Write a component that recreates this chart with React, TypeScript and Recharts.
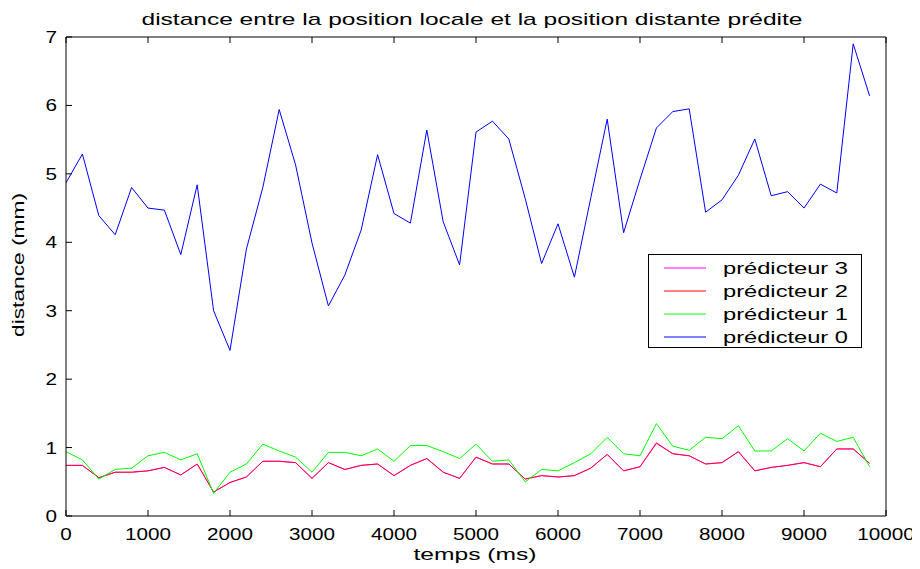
import React from "react";
import { LineChart, Line, XAxis, YAxis, Legend } from "recharts";

const times = [0, 200, 400, 600, 800, 1000, 1200, 1400, 1600, 1800, 2000, 2200, 2400, 2600, 2800, 3000, 3200, 3400, 3600, 3800, 4000, 4200, 4400, 4600, 4800, 5000, 5200, 5400, 5600, 5800, 6000, 6200, 6400, 6600, 6800, 7000, 7200, 7400, 7600, 7800, 8000, 8200, 8400, 8600, 8800, 9000, 9200, 9400, 9600, 9800];

const pred0 = [4.87, 5.29, 4.39, 4.11, 4.80, 4.50, 4.47, 3.82, 4.84, 3.00, 2.42, 3.90, 4.80, 5.94, 5.13, 3.99, 3.07, 3.52, 4.18, 5.28, 4.42, 4.28, 5.64, 4.30, 3.67, 5.61, 5.77, 5.51, 4.64, 3.69, 4.27, 3.49, 4.65, 5.80, 4.14, 4.92, 5.67, 5.91, 5.95, 4.44, 4.62, 4.98, 5.51, 4.68, 4.74, 4.50, 4.85, 4.72, 6.90, 6.14];

const pred1 = [0.94, 0.82, 0.54, 0.68, 0.70, 0.88, 0.93, 0.82, 0.91, 0.33, 0.64, 0.76, 1.05, 0.95, 0.86, 0.64, 0.93, 0.93, 0.88, 0.98, 0.80, 1.03, 1.03, 0.94, 0.84, 1.05, 0.80, 0.82, 0.50, 0.68, 0.66, 0.78, 0.91, 1.15, 0.91, 0.88, 1.35, 1.02, 0.96, 1.15, 1.13, 1.32, 0.95, 0.95, 1.13, 0.95, 1.21, 1.09, 1.15, 0.72];

const pred2 = [0.74, 0.74, 0.56, 0.64, 0.64, 0.66, 0.71, 0.60, 0.76, 0.35, 0.49, 0.57, 0.80, 0.80, 0.78, 0.55, 0.78, 0.68, 0.74, 0.76, 0.59, 0.74, 0.84, 0.64, 0.55, 0.86, 0.76, 0.76, 0.54, 0.59, 0.57, 0.59, 0.70, 0.90, 0.66, 0.72, 1.06, 0.91, 0.88, 0.76, 0.78, 0.94, 0.66, 0.71, 0.74, 0.78, 0.72, 0.98, 0.98, 0.77];

const pred3 = [0.74, 0.74, 0.56, 0.64, 0.64, 0.66, 0.71, 0.60, 0.76, 0.35, 0.49, 0.57, 0.80, 0.80, 0.78, 0.55, 0.78, 0.68, 0.74, 0.76, 0.59, 0.74, 0.84, 0.64, 0.55, 0.86, 0.76, 0.76, 0.54, 0.59, 0.57, 0.59, 0.70, 0.90, 0.66, 0.72, 1.07, 0.91, 0.88, 0.76, 0.78, 0.94, 0.66, 0.71, 0.74, 0.78, 0.72, 0.98, 0.98, 0.77];

const xTicks = [0, 1000, 2000, 3000, 4000, 5000, 6000, 7000, 8000, 9000, 10000];
const yTicks = [0, 1, 2, 3, 4, 5, 6, 7];

const seriesNames = ["prédicteur 0", "prédicteur 1", "prédicteur 2", "prédicteur 3"];
const titleText = "distance entre la position locale et la position distante prédite";
const xLabelText = "temps (ms)";
const yLabelText = "distance (mm)";

const data = times.map((t, i) => ({
  t,
  p0: pred0[i],
  p1: pred1[i],
  p2: pred2[i],
  p3: pred3[i],
}));

const FONT = "'Liberation Sans', Arial, sans-serif";
const DIGIT_W = 11.5;

const BottomTick = (props: any) => {
  const { x, y, payload } = props;
  const s = String(payload.value);
  return (
    <g>
      <line x1={x} y1={y} x2={x} y2={y - 6} stroke="#000" />
      <text x={x} y={y + 24} textAnchor="middle" fontSize={16} fontFamily={FONT} fill="#000" textLength={s.length * DIGIT_W} lengthAdjust="spacingAndGlyphs">{s}</text>
    </g>
  );
};

const TopTick = (props: any) => {
  const { x, y } = props;
  return <line x1={x} y1={y} x2={x} y2={y + 6} stroke="#000" />;
};

const LeftTick = (props: any) => {
  const { x, y, payload } = props;
  const s = String(payload.value);
  return (
    <g>
      <line x1={x} y1={y} x2={x + 6} y2={y} stroke="#000" />
      <text x={x - 9} y={y + 6} textAnchor="end" fontSize={16} fontFamily={FONT} fill="#000" textLength={s.length * DIGIT_W} lengthAdjust="spacingAndGlyphs">{s}</text>
    </g>
  );
};

const RightTick = (props: any) => {
  const { x, y } = props;
  return <line x1={x} y1={y} x2={x - 6} y2={y} stroke="#000" />;
};

const TitleLabel = () => (
  <text x={464} y={17} textAnchor="middle" fontSize={17} fontFamily={FONT} fill="#000" textLength={661} lengthAdjust="spacingAndGlyphs">{titleText}</text>
);

const XLabel = () => (
  <text x={467} y={552} textAnchor="middle" fontSize={17} fontFamily={FONT} fill="#000" textLength={123} lengthAdjust="spacingAndGlyphs">{xLabelText}</text>
);

const YLabel = () => (
  <text x={0} y={0} transform="translate(16, 257) rotate(-90)" textAnchor="middle" fontSize={17} fontFamily={FONT} fill="#000" textLength={144} lengthAdjust="spacingAndGlyphs">{yLabelText}</text>
);

const LegendBox = (props: any) => {
  const payload = [...(props.payload || [])].sort((a: any, b: any) => String(b.value).localeCompare(String(a.value)));
  return (
    <div style={{ width: 212, height: 92, border: "1px solid #000", background: "#fff" }}>
      <svg width={212} height={92}>
        {payload.map((item: any, i: number) => {
          const cy = 13 + i * 23;
          return (
            <g key={i}>
              <line x1={15} y1={cy} x2={57} y2={cy} stroke={item.color} strokeWidth={1} />
              <text x={74} y={cy + 6} fontSize={17} fontFamily={FONT} fill="#000" textLength={125} lengthAdjust="spacingAndGlyphs">{item.value}</text>
            </g>
          );
        })}
      </svg>
    </div>
  );
};

export default function App() {
  return (
    <LineChart width={912} height={561} data={data} margin={{ top: 28, right: 33, left: 0, bottom: 0 }}>
      <XAxis
        dataKey="t"
        type="number"
        domain={[0, 10000]}
        ticks={xTicks}
        height={53}
        tickSize={0}
        tickMargin={0}
        tickLine={false}
        tick={<BottomTick />}
        axisLine={{ stroke: "#000" }}
        interval={0}
        label={<XLabel />}
      />
      <XAxis
        xAxisId="top"
        orientation="top"
        dataKey="t"
        type="number"
        domain={[0, 10000]}
        ticks={xTicks}
        height={1}
        tickSize={0}
        tickMargin={0}
        tickLine={false}
        tick={<TopTick />}
        axisLine={{ stroke: "#000" }}
        interval={0}
        label={<TitleLabel />}
      />
      <YAxis
        type="number"
        domain={[0, 7]}
        ticks={yTicks}
        width={58}
        tickSize={0}
        tickMargin={0}
        tickLine={false}
        tick={<LeftTick />}
        axisLine={{ stroke: "#000" }}
        interval={0}
        label={<YLabel />}
      />
      <YAxis
        yAxisId="right"
        orientation="right"
        type="number"
        domain={[0, 7]}
        ticks={yTicks}
        width={1}
        tickSize={0}
        tickMargin={0}
        tickLine={false}
        tick={<RightTick />}
        axisLine={{ stroke: "#000" }}
        interval={0}
      />
      <Legend
        layout="vertical"
        align="center"
        verticalAlign="middle"
        content={<LegendBox />}
        wrapperStyle={{ left: 640, top: 246, width: 214, height: 94 }}
      />
      <Line name={seriesNames[3]} dataKey="p3" stroke="#ff00ff" strokeWidth={1} dot={false} isAnimationActive={false} type="linear" />
      <Line name={seriesNames[2]} dataKey="p2" stroke="#ff0000" strokeOpacity={0.8} strokeWidth={1} dot={false} isAnimationActive={false} type="linear" />
      <Line name={seriesNames[1]} dataKey="p1" stroke="#00ff00" strokeWidth={1} dot={false} isAnimationActive={false} type="linear" />
      <Line name={seriesNames[0]} dataKey="p0" stroke="#0000ff" strokeWidth={1} dot={false} isAnimationActive={false} type="linear" />
    </LineChart>
  );
}
